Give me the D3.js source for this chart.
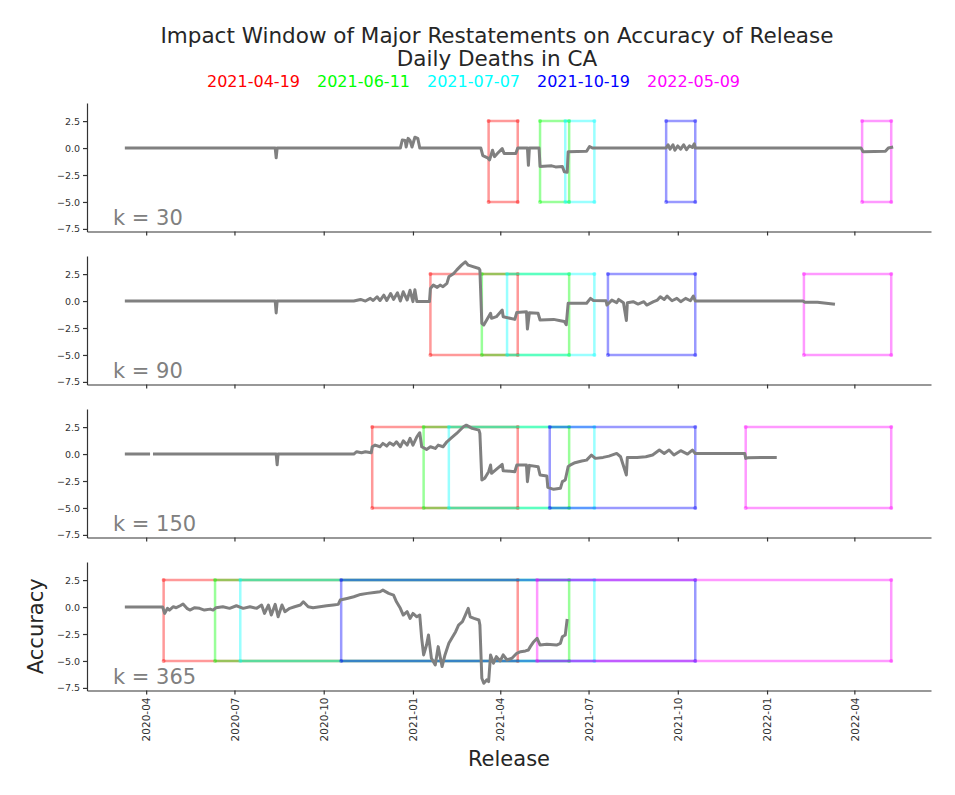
<!DOCTYPE html>
<html>
<head>
<meta charset="utf-8">
<script src="https://cdn.jsdelivr.net/npm/d3@7"></script>
<style>
  body { margin: 0; background: #fff; }
  svg { font-family: "DejaVu Sans", sans-serif; }
</style>
</head>
<body>
<svg id="chart" width="955" height="795"></svg>
<script>
// restatement dates and their colours
const restatements = ["2021-04-19", "2021-06-11", "2021-07-07", "2021-10-19", "2022-05-09"];
const restateColors = ["#ff0000", "#00ff00", "#00ffff", "#0000ff", "#ff00ff"];
const windows = [30, 90, 150, 365];
const yTicks = [-7.5, -5, -2.5, 0, 2.5];
const boxTop = 2.5, boxBottom = -5;

// accuracy series, one per window size
const series30 = [
  ["2020-03-10", 0], ["2020-08-12", 0], ["2020-08-13", -0.9], ["2020-08-14", 0],
  ["2020-12-19", 0], ["2020-12-21", 0.75], ["2020-12-24", 0.7], ["2020-12-25", 0.1], ["2020-12-27", 0.9],
  ["2020-12-29", 0.7], ["2020-12-31", 0.1], ["2021-01-03", 1.0], ["2021-01-06", 0.9], ["2021-01-08", 0],
  ["2021-03-12", 0], ["2021-03-14", -0.7], ["2021-03-19", -0.9], ["2021-03-21", -1.1], ["2021-03-24", -0.2],
  ["2021-03-26", -0.8], ["2021-03-29", -0.5], ["2021-04-03", -0.05], ["2021-04-05", -0.5], ["2021-04-17", -0.5],
  ["2021-04-19", 0], ["2021-04-29", 0], ["2021-04-30", -1.6], ["2021-05-01", 0], ["2021-05-11", 0],
  ["2021-05-12", -1.7], ["2021-05-24", -1.65], ["2021-05-28", -1.75], ["2021-06-04", -1.7], ["2021-06-06", -2.2],
  ["2021-06-09", -2.25], ["2021-06-10", -0.35], ["2021-06-29", -0.3], ["2021-07-02", 0.15], ["2021-07-05", 0],
  ["2021-09-19", 0], ["2021-09-21", 0.3], ["2021-09-23", -0.1], ["2021-09-26", 0.3], ["2021-09-28", -0.2],
  ["2021-10-01", 0.2], ["2021-10-04", -0.1], ["2021-10-07", 0.3], ["2021-10-10", -0.15], ["2021-10-13", 0.2],
  ["2021-10-16", 0.05], ["2021-10-18", 0.4], ["2021-10-19", 0],
  ["2022-04-08", 0], ["2022-04-10", -0.35], ["2022-05-03", -0.3], ["2022-05-06", 0], ["2022-05-11", 0.1]
];

const series90 = [
  ["2020-03-10", 0], ["2020-08-12", 0], ["2020-08-13", -1.1], ["2020-08-14", 0],
  ["2020-11-01", 0], ["2020-11-08", 0.15], ["2020-11-13", 0], ["2020-11-18", 0.25], ["2020-11-21", 0.05],
  ["2020-11-25", 0.4], ["2020-11-28", 0.05], ["2020-12-02", 0.55], ["2020-12-05", 0.05], ["2020-12-09", 0.7],
  ["2020-12-12", 0.15], ["2020-12-16", 0.77], ["2020-12-19", 0], ["2020-12-22", 0.86], ["2020-12-26", 0.1],
  ["2020-12-29", 1.0], ["2021-01-01", -0.05], ["2021-01-03", 1.05], ["2021-01-05", -0.05], ["2021-01-18", -0.05],
  ["2021-01-19", 1.17], ["2021-01-22", 1.48], ["2021-01-26", 1.27], ["2021-01-29", 1.48], ["2021-02-01", 1.33],
  ["2021-02-05", 1.64], ["2021-02-07", 2.25], ["2021-02-12", 2.56], ["2021-02-15", 2.87], ["2021-02-20", 3.33],
  ["2021-02-24", 3.64], ["2021-02-27", 3.33], ["2021-03-10", 3.02], ["2021-03-11", 2.87],
  ["2021-03-13", -2.07], ["2021-03-15", -2.22], ["2021-03-18", -1.76], ["2021-03-22", -1.14], ["2021-03-23", -1.6],
  ["2021-03-28", -1.45], ["2021-04-03", -0.83], ["2021-04-04", -1.45], ["2021-04-11", -1.6], ["2021-04-16", -1.7],
  ["2021-04-18", -1.05], ["2021-04-28", -1.0], ["2021-04-29", -2.6], ["2021-05-01", -1.08], ["2021-05-10", -1.14],
  ["2021-05-12", -1.76], ["2021-05-26", -1.7], ["2021-06-02", -1.82], ["2021-06-06", -1.9], ["2021-06-08", -2.2],
  ["2021-06-10", -0.2], ["2021-06-29", -0.2], ["2021-07-03", 0.25], ["2021-07-06", 0.05],
  ["2021-07-19", 0.03], ["2021-07-20", -0.37], ["2021-07-25", 0.09], ["2021-07-30", -0.15], ["2021-08-01", 0.15],
  ["2021-08-06", -0.15], ["2021-08-09", -1.8], ["2021-08-10", -0.15], ["2021-08-16", -0.06], ["2021-08-21", -0.28],
  ["2021-08-27", -0.06], ["2021-08-30", -0.37], ["2021-09-06", -0.06], ["2021-09-10", 0.09], ["2021-09-13", 0.4],
  ["2021-09-17", 0.15], ["2021-09-20", 0.46], ["2021-09-25", 0.03], ["2021-09-30", 0.25], ["2021-10-04", -0.06],
  ["2021-10-09", 0.25], ["2021-10-14", 0.03], ["2021-10-17", 0.46], ["2021-10-19", 0],
  ["2022-02-07", 0], ["2022-02-09", -0.12], ["2022-02-22", -0.1], ["2022-03-12", -0.3]
];

const series150 = [
  ["2020-03-10", 0], ["2020-04-05", 0], ["2020-04-06", null], ["2020-04-08", 0],
  ["2020-08-13", 0], ["2020-08-14", -1.0], ["2020-08-15", 0],
  ["2020-11-01", 0], ["2020-11-04", 0.22], ["2020-11-09", 0.12], ["2020-11-13", 0.22], ["2020-11-19", 0.12],
  ["2020-11-20", 0.68], ["2020-11-23", 0.83], ["2020-11-28", 0.68], ["2020-12-01", 0.99], ["2020-12-05", 0.74],
  ["2020-12-08", 1.05], ["2020-12-12", 0.83], ["2020-12-15", 1.14], ["2020-12-19", 0.68], ["2020-12-22", 1.23],
  ["2020-12-26", 0.83], ["2020-12-29", 1.45], ["2021-01-01", 0.83], ["2021-01-05", 1.6], ["2021-01-08", 1.98],
  ["2021-01-10", 0.68], ["2021-01-15", 0.43], ["2021-01-19", 0.68], ["2021-01-24", 0.52], ["2021-01-27", 0.83],
  ["2021-02-01", 0.68], ["2021-02-05", 1.14], ["2021-02-09", 1.45], ["2021-02-15", 1.91], ["2021-02-22", 2.53],
  ["2021-02-25", 2.68], ["2021-03-03", 2.38], ["2021-03-10", 2.22], ["2021-03-11", 1.91],
  ["2021-03-13", -2.41], ["2021-03-16", -2.25], ["2021-03-20", -1.64], ["2021-03-22", -1.02], ["2021-03-23", -1.79],
  ["2021-03-27", -1.48], ["2021-04-03", -0.96], ["2021-04-04", -1.54], ["2021-04-16", -1.64], ["2021-04-18", -1.02],
  ["2021-04-28", -1.02], ["2021-04-29", -2.56], ["2021-05-01", -1.05], ["2021-05-10", -1.17], ["2021-05-12", -1.94],
  ["2021-05-19", -2.04], ["2021-05-20", -3.09], ["2021-05-26", -3.27], ["2021-06-02", -3.18], ["2021-06-04", -2.56],
  ["2021-06-07", -2.41], ["2021-06-10", -1.17], ["2021-06-12", -1.02], ["2021-06-17", -0.8], ["2021-06-24", -0.65],
  ["2021-06-29", -0.56], ["2021-07-04", -0.09], ["2021-07-08", -0.4], ["2021-07-16", -0.31], ["2021-07-22", -0.19],
  ["2021-07-30", 0.06], ["2021-08-03", -0.25], ["2021-08-09", -1.94], ["2021-08-10", -0.31], ["2021-08-20", -0.31],
  ["2021-08-29", -0.25], ["2021-09-05", -0.09], ["2021-09-12", 0.37], ["2021-09-17", 0.06], ["2021-09-22", 0.37],
  ["2021-09-27", -0.09], ["2021-10-04", 0.31], ["2021-10-11", 0], ["2021-10-16", 0.37], ["2021-10-19", 0.06],
  ["2021-12-09", 0.06], ["2021-12-10", -0.4], ["2021-12-12", -0.35], ["2021-12-26", -0.31], ["2022-01-11", -0.31]
];

const series365 = [
  ["2020-03-10", 0], ["2020-04-18", 0], ["2020-04-20", -0.59], ["2020-04-23", -0.12], ["2020-04-25", -0.28],
  ["2020-04-29", 0.03], ["2020-05-02", -0.06], ["2020-05-06", 0.12], ["2020-05-09", 0.28], ["2020-05-13", -0.12],
  ["2020-05-16", -0.28], ["2020-05-21", -0.06], ["2020-05-26", -0.12], ["2020-05-31", -0.28], ["2020-06-06", -0.19],
  ["2020-06-09", -0.28], ["2020-06-12", -0.06], ["2020-06-19", 0.03], ["2020-06-26", -0.12], ["2020-07-03", 0.12],
  ["2020-07-10", -0.12], ["2020-07-17", 0.03], ["2020-07-24", -0.12], ["2020-07-29", 0.19], ["2020-08-01", -0.59],
  ["2020-08-05", 0.19], ["2020-08-08", -0.74], ["2020-08-12", 0.25], ["2020-08-15", -0.9], ["2020-08-19", 0.19],
  ["2020-08-22", -0.43], ["2020-08-27", -0.12], ["2020-09-01", 0.03], ["2020-09-07", 0.19], ["2020-09-10", 0.49],
  ["2020-09-15", 0.03], ["2020-09-20", -0.06], ["2020-09-27", 0.03], ["2020-10-04", 0.12], ["2020-10-11", 0.19],
  ["2020-10-16", 0.25], ["2020-10-18", 0.65], ["2020-10-25", 0.8], ["2020-11-01", 0.96], ["2020-11-08", 1.17],
  ["2020-11-15", 1.27], ["2020-11-22", 1.36], ["2020-11-28", 1.42], ["2020-12-01", 1.57], ["2020-12-07", 1.27],
  ["2020-12-12", 1.11], ["2020-12-15", 0.49], ["2020-12-19", -0.12], ["2020-12-22", -0.74], ["2020-12-26", -0.43],
  ["2020-12-29", -1.05], ["2021-01-01", -0.59], ["2021-01-05", -0.9], ["2021-01-08", -0.74], ["2021-01-10", -2.9],
  ["2021-01-12", -4.44], ["2021-01-15", -3.52], ["2021-01-17", -2.59], ["2021-01-20", -4.75], ["2021-01-24", -5.37],
  ["2021-01-27", -3.67], ["2021-01-31", -5.52], ["2021-02-03", -4.44], ["2021-02-07", -3.36], ["2021-02-10", -2.9],
  ["2021-02-14", -2.28], ["2021-02-17", -1.67], ["2021-02-21", -1.36], ["2021-02-24", -0.74], ["2021-02-27", -0.12],
  ["2021-03-01", -0.9], ["2021-03-05", -1.05], ["2021-03-10", -1.2], ["2021-03-11", -1.67],
  ["2021-03-13", -6.6], ["2021-03-15", -7.07], ["2021-03-18", -6.76], ["2021-03-20", -6.91], ["2021-03-22", -4.44],
  ["2021-03-25", -5.21], ["2021-03-28", -4.6], ["2021-04-01", -5.0], ["2021-04-04", -4.44], ["2021-04-08", -4.91],
  ["2021-04-13", -4.75], ["2021-04-18", -4.29], ["2021-04-22", -4.14], ["2021-04-27", -4.07], ["2021-04-30", -3.98],
  ["2021-05-02", -3.67], ["2021-05-05", -3.27], ["2021-05-09", -2.9], ["2021-05-12", -3.52], ["2021-05-19", -3.46],
  ["2021-05-29", -3.52], ["2021-06-02", -3.36], ["2021-06-04", -2.75], ["2021-06-07", -2.59], ["2021-06-09", -1.11]
];

const seriesByWindow = [series30, series90, series150, series365];

const parse = d3.timeParse("%Y-%m-%d");
const svg = d3.select("#chart");

const left = 87, right = 931, firstTop = 103, panelStep = 153, panelH = 128.5;

const x = d3.scaleTime()
  .domain([parse("2020-01-31"), parse("2022-06-19")])
  .range([left, right]);

const axisColor = "#333333";

windows.forEach((k, i) => {
  const top = firstTop + i * panelStep;
  const y = d3.scaleLinear().domain([-7.74, 4.18]).range([top + panelH, top]);
  const g = svg.append("g");

  // impact window boxes
  restatements.forEach((r, j) => {
    const end = parse(r);
    const start = d3.timeDay.offset(end, -k);
    const corners = [[start, boxBottom], [start, boxTop], [end, boxTop], [end, boxBottom], [start, boxBottom]];
    const boxLine = d3.line().x(p => x(p[0])).y(p => y(p[1]));
    g.append("path")
      .attr("d", boxLine(corners))
      .attr("fill", "none")
      .attr("stroke", restateColors[j])
      .attr("stroke-opacity", 0.4)
      .attr("stroke-width", 2.5);
    g.selectAll(null)
      .data(corners.slice(0, 4))
      .join("circle")
      .attr("cx", p => x(p[0]))
      .attr("cy", p => y(p[1]))
      .attr("r", 2)
      .attr("fill", restateColors[j])
      .attr("fill-opacity", 0.4);
  });

  // accuracy line
  const line = d3.line()
    .defined(d => d[1] !== null)
    .x(d => x(parse(d[0])))
    .y(d => y(d[1]));

  g.append("path")
    .attr("d", line(seriesByWindow[i]))
    .attr("fill", "none")
    .attr("stroke", "#808080")
    .attr("stroke-width", 3)
    .attr("stroke-linejoin", "round");

  // axes
  const yAxis = g.append("g")
    .attr("transform", `translate(${left},0)`)
    .call(d3.axisLeft(y).tickValues(yTicks).tickFormat(d3.format(".1f")).tickSize(4).tickSizeOuter(0).tickPadding(3));

  const xAxis = g.append("g")
    .attr("transform", `translate(0,${top + panelH})`)
    .call(d3.axisBottom(x)
      .ticks(d3.timeMonth.every(3))
      .tickFormat(i === windows.length - 1 ? d3.timeFormat("%Y-%m") : "")
      .tickSize(4).tickSizeOuter(0));

  [yAxis, xAxis].forEach(a => {
    a.attr("font-family", "DejaVu Sans").attr("font-size", 9.5);
    a.selectAll("path, line").attr("stroke", axisColor).attr("stroke-width", 1.2);
    a.selectAll("text").attr("fill", axisColor);
  });

  xAxis.attr("font-size", 10.5);
  xAxis.selectAll("text")
    .attr("transform", "rotate(-90)")
    .attr("text-anchor", "end")
    .attr("x", -7)
    .attr("y", 0)
    .attr("dy", "0.35em");

  // window label
  g.append("text")
    .attr("x", 113)
    .attr("y", top + panelH - 6.5)
    .attr("font-size", 21)
    .attr("fill", "#808080")
    .text(`k = ${k}`);
});

// titles
svg.append("text")
  .attr("x", 497).attr("y", 43)
  .attr("text-anchor", "middle")
  .attr("font-size", 21.5)
  .attr("fill", "#262626")
  .text("Impact Window of Major Restatements on Accuracy of Release");

svg.append("text")
  .attr("x", 497).attr("y", 66)
  .attr("text-anchor", "middle")
  .attr("font-size", 21.5)
  .attr("fill", "#262626")
  .text("Daily Deaths in CA");

// legend of restatement dates
svg.append("g")
  .selectAll("text")
  .data(restatements)
  .join("text")
  .attr("x", (d, j) => 253.5 + j * 110)
  .attr("y", 87)
  .attr("text-anchor", "middle")
  .attr("font-size", 16)
  .attr("fill", (d, j) => restateColors[j])
  .text(d => d);

// axis titles
svg.append("text")
  .attr("x", (left + right) / 2).attr("y", 766)
  .attr("text-anchor", "middle")
  .attr("font-size", 21)
  .attr("fill", "#262626")
  .text("Release");

const lastTop = firstTop + (windows.length - 1) * panelStep;
svg.append("text")
  .attr("transform", `translate(43,${lastTop + panelH / 2}) rotate(-90)`)
  .attr("text-anchor", "middle")
  .attr("font-size", 21)
  .attr("fill", "#262626")
  .text("Accuracy");
</script>
</body>
</html>
